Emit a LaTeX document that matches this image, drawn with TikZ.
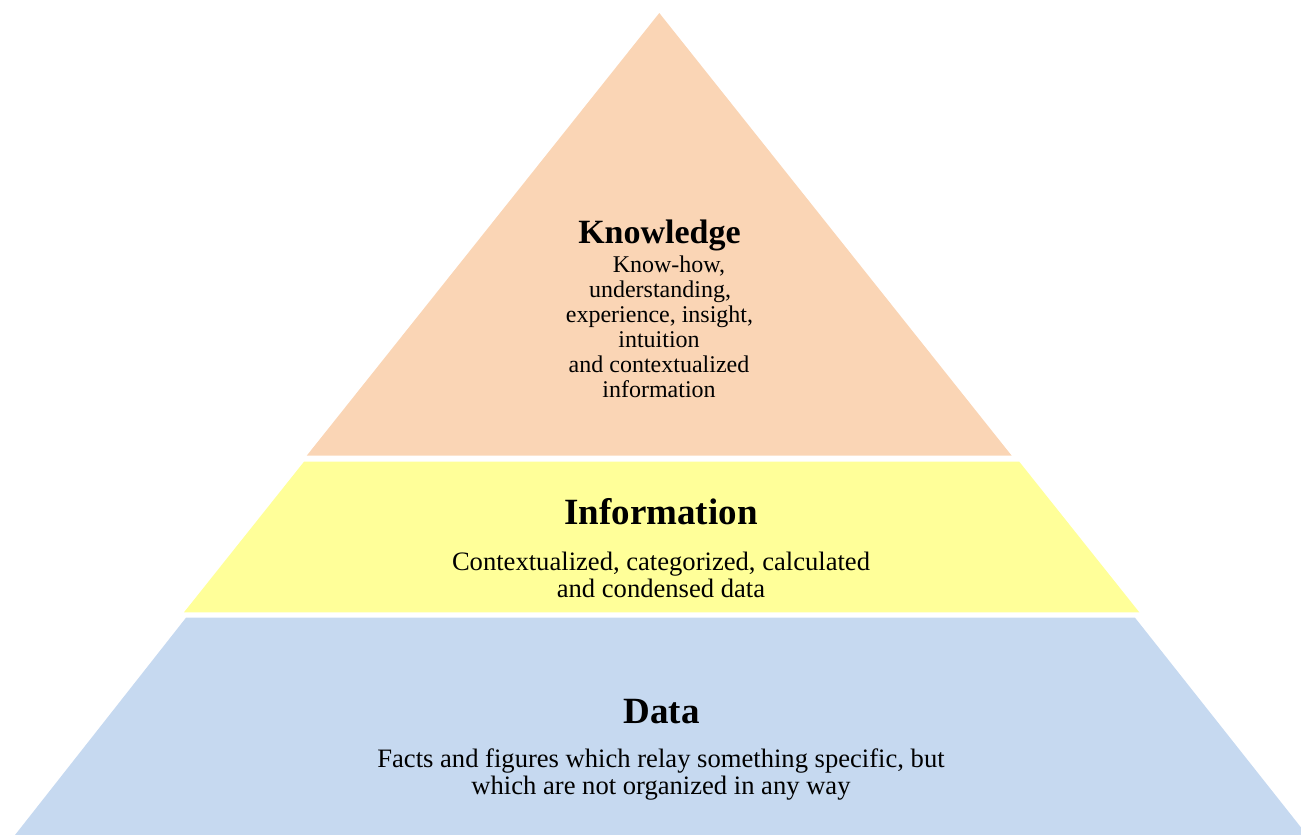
\documentclass[tikz,border=0pt]{standalone}
\usepackage{fontspec}
\setmainfont{Liberation Serif}
\definecolor{knowc}{HTML}{FAD5B5}
\definecolor{infoc}{HTML}{FFFF99}
\definecolor{datac}{HTML}{C6D9F0}
\begin{document}
\begin{tikzpicture}[x=1pt,y=-1pt,
  title/.style={anchor=base,inner sep=0pt,font=\fontsize{37}{40}\selectfont\bfseries},
  ktitle/.style={anchor=base,inner sep=0pt,font=\fontsize{34}{38}\selectfont\bfseries},
  body/.style={anchor=base,inner sep=0pt,font=\fontsize{26.6}{30}\selectfont},
  kbody/.style={anchor=base,inner sep=0pt,font=\fontsize{24}{27}\selectfont}]
\useasboundingbox (0,0) rectangle (1301,835);
\clip (0,0) rectangle (1301,835);
% layers
\fill[knowc] (659.3,13) -- (1011.7,455.7) -- (306.7,455.7) -- cycle;
\fill[infoc] (304,461.7) -- (1019.3,461.7) -- (1139.3,612.3) -- (184,612.3) -- cycle;
\fill[datac] (186,617.7) -- (1135,617.7) -- (1307,835) -- (15,835) -- cycle;
% knowledge
\node[ktitle] (kt) at (659.5,243.3) {Knowledge};
\node[kbody] (k1) at (669,272) {Know-how,};
\node[kbody] (k2) at (660,297) {understanding,};
\node[kbody] (k3) at (659.5,322) {experience, insight,};
\node[kbody] (k4) at (659,347) {intuition};
\node[kbody] (k5) at (659,372) {and contextualized};
\node[kbody] (k6) at (659,397) {information};
% information
\node[title] (it) at (661,524.3) {Information};
\node[body] (i1) at (661,570.3) {Contextualized, categorized, calculated};
\node[body] (i2) at (661,597) {and condensed data};
% data
\node[title] (dt) at (661.5,723) {Data};
\node[body] (d1) at (661,767.7) {Facts and figures which relay something specific, but};
\node[body] (d2) at (661,794.5) {which are not organized in any way};
\end{tikzpicture}
\end{document}
